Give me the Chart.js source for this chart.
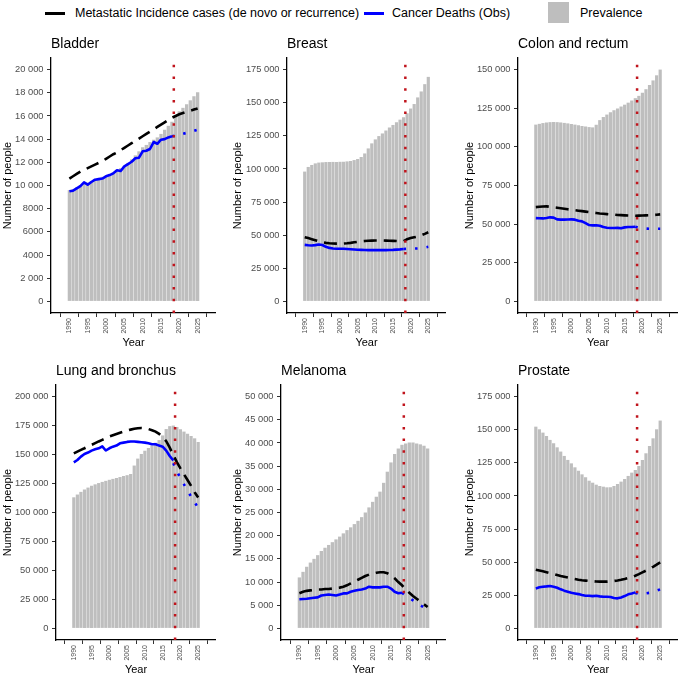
<!DOCTYPE html>
<html>
<head>
<meta charset="utf-8">
<script src="https://cdn.jsdelivr.net/npm/chart.js@4.4.1/dist/chart.umd.min.js"></script>
<style>
  body { margin: 0; width: 678px; height: 674px; overflow: hidden; background: #fff;
         font-family: "Liberation Sans", Arial, Helvetica, sans-serif; position: relative; }
  .panel { position: absolute; }
  .ptitle { position: absolute; font-size: 14px; line-height: 14px; color: #000; white-space: nowrap; }
  .lg { position: absolute; font-size: 12.5px; line-height: 14px; color: #000; white-space: nowrap; }
  .lkey { position: absolute; height: 0; }
</style>
</head>
<body>
<div class="lkey" style="left:45px; top:12px; width:20px; border-top:3px solid #000;"></div>
<div class="lg" style="left:75px; top:6px;">Metastatic Incidence cases (de novo or recurrence)</div>
<div class="lkey" style="left:364px; top:12px; width:20px; border-top:3px solid #0000ff;"></div>
<div class="lg" style="left:392px; top:6px;">Cancer Deaths (Obs)</div>
<div class="lkey" style="left:548px; top:2px; width:21px; height:21px; background:#bebebe;"></div>
<div class="lg" style="left:580px; top:6px;">Prevalence</div>

<script>
// ---- data ----
const years = [1990, 1991, 1992, 1993, 1994, 1995, 1996, 1997, 1998, 1999,
               2000, 2001, 2002, 2003, 2004, 2005, 2006, 2007, 2008, 2009,
               2010, 2011, 2012, 2013, 2014, 2015, 2016, 2017, 2018, 2019,
               2020, 2021, 2022, 2023, 2024, 2025];
const obsYears = years.slice(0, 29);               // 1990 - 2018
const projYears = [2018, 2019, 2020, 2021, 2022, 2023, 2024, 2025];
const xTickYears = [1990, 1995, 2000, 2005, 2010, 2015, 2020, 2025];
const cutYear = 2018.5;

// Bladder
const bladderPrevalence = [9600, 9700, 9850, 10000, 10150, 10250, 10400, 10550, 10650, 10750,
  10850, 11000, 11150, 11350, 11500, 11700, 11950, 12250, 12600, 12950,
  13300, 13500, 13750, 13950, 14150, 14450, 14800, 15150, 15500, 16000,
  16400, 16700, 17000, 17350, 17700, 18050];
const bladderMetastatic = [10600, 10800, 11000, 11200, 11350, 11500, 11650, 11800, 11950, 12100,
  12300, 12500, 12700, 12850, 13050, 13250, 13450, 13650, 13850, 14050,
  14250, 14450, 14650, 14850, 15050, 15250, 15450, 15650, 15850, 16000,
  16150, 16250, 16350, 16450, 16550, 16650];
const bladderDeaths = [9500, 9550, 9750, 9950, 10270, 10070, 10300, 10500, 10550, 10600,
  10790, 10900, 11050, 11310, 11250, 11650, 11850, 12050, 12350, 12400,
  12950, 13000, 13150, 13750, 13600, 13950, 14000, 14150, 14250];
const bladderDeathsProj = [14250, 14300, 14380, 14460, 14540, 14620, 14720, 14820];
const bladderTicks = [0, 2000, 4000, 6000, 8000, 10000, 12000, 14000, 16000, 18000, 20000];
const bladderTickLabels = ['0', '2 000', '4000', '6000', '8000', '10 000', '12 000', '14 000', '16 000', '18 000', '20 000'];

// Breast
const breastPrevalence = [98000, 101500, 103000, 104200, 104800, 105000, 105200, 105300, 105300, 105300,
  105400, 105500, 105700, 106000, 106700, 107500, 109000, 111700, 115500, 119300,
  122300, 124800, 126800, 129000, 131200, 133200, 135300, 137200, 139000, 142000,
  145600, 149000, 154000, 158500, 164000, 169500];
const breastMetastatic = [48500, 47800, 47000, 46200, 45400, 44700, 44200, 43900, 43700, 43600,
  43600, 43700, 43900, 44200, 44600, 45000, 45300, 45600, 45800, 45900,
  46000, 46000, 46000, 45900, 45800, 45700, 45600, 45400, 45400, 47000,
  47800, 48400, 49000, 49900, 51000, 52200];
const breastDeaths = [42700, 42400, 42200, 42500, 43000, 42600, 41200, 40400, 39900, 39700,
  39800, 39700, 39600, 39400, 39200, 39000, 38900, 38800, 38700, 38700,
  38700, 38700, 38700, 38700, 38800, 38900, 39100, 39300, 39600];
const breastDeathsProj = [39600, 39700, 39800, 39900, 40000, 40300, 40700, 41200];
const breastTicks = [0, 25000, 50000, 75000, 100000, 125000, 150000, 175000];
const breastTickLabels = ['0', '25 000', '50 000', '75 000', '100 000', '125 000', '150 000', '175 000'];

// Colon and rectum
const colonPrevalence = [114400, 114900, 115400, 115800, 116000, 116100, 116000, 115800, 115500, 115200,
  114800, 114400, 114000, 113500, 113100, 112800, 112600, 114300, 117300, 119300,
  120900, 122400, 123700, 124900, 126100, 127300, 128600, 130000, 131500, 133000,
  135000, 137300, 140000, 143000, 146300, 150000];
const colonMetastatic = [61000, 61200, 61400, 61500, 61200, 60900, 60600, 60300, 60000, 59600,
  59300, 59000, 58700, 58400, 58100, 57800, 57500, 57200, 56900, 56700,
  56500, 56300, 56100, 55900, 55800, 55700, 55600, 55500, 55400, 55500,
  55600, 55700, 55800, 55900, 56100, 56300];
const colonDeaths = [53900, 53800, 53700, 54000, 54400, 54200, 53100, 52900, 52900, 53000,
  53100, 52900, 52200, 51800, 50700, 49400, 49200, 49300, 49000, 48100,
  47700, 47500, 47500, 47600, 47300, 47900, 48100, 48100, 48300];
const colonDeathsProj = [48300, 47500, 47300, 47100, 47000, 47000, 47000, 47000];
const colonTicks = [0, 25000, 50000, 75000, 100000, 125000, 150000];
const colonTickLabels = ['0', '25 000', '50 000', '75 000', '100 000', '125 000', '150 000'];

// Lung and bronchus
const lungPrevalence = [113100, 115500, 117800, 119800, 121500, 123000, 124300, 125400, 126400, 127300,
  128200, 129000, 129800, 130600, 131400, 132200, 133200, 140500, 146500, 150500,
  153300, 155600, 157800, 160200, 162500, 166500, 172000, 174500, 175000, 173800,
  171800, 169800, 168000, 166000, 164000, 160800];
const lungMetastatic = [151000, 152500, 154000, 155400, 156900, 158300, 159800, 161300, 162700, 164100,
  165500, 166600, 167700, 168800, 169800, 170700, 171500, 172200, 172700, 172900,
  172700, 172000, 171000, 169800, 167800, 165300, 161500, 156000, 149500, 143500,
  138000, 133000, 128000, 123000, 117500, 113000];
const lungDeaths = [143300, 145300, 148200, 150500, 151700, 153400, 154500, 155400, 157000, 153500,
  155400, 156800, 157700, 159700, 160300, 160900, 161200, 161200, 160900, 160600,
  160300, 159700, 158900, 158900, 157700, 156800, 153400, 148800, 144800];
const lungDeathsProj = [142500, 135500, 129800, 124300, 118800, 113800, 108800, 104000];
const lungTicks = [0, 25000, 50000, 75000, 100000, 125000, 150000, 175000, 200000];
const lungTickLabels = ['0', '25 000', '50 000', '75 000', '100 000', '125 000', '150 000', '175 000', '200 000'];

// Melanoma
const melanomaPrevalence = [11000, 12200, 13300, 14200, 15000, 15800, 16700, 17400, 18000, 18600,
  19200, 19800, 20500, 21200, 21800, 22500, 23200, 24000, 25000, 26100,
  27300, 28400, 29500, 31400, 33800, 35800, 37600, 38800, 39600, 39900,
  40100, 40100, 39900, 39700, 39400, 38800];
const melanomaMetastatic = [7600, 7900, 8100, 8200, 8300, 8400, 8400, 8500, 8500, 8600,
  8700, 8800, 9000, 9300, 9700, 10100, 10500, 10900, 11300, 11600,
  11800, 12000, 12100, 12100, 11900, 11400, 10800, 10000, 9300, 8400,
  7700, 7000, 6400, 5800, 5200, 4600];
const melanomaDeaths = [6300, 6350, 6400, 6500, 6600, 6700, 7100, 7200, 7300, 7200,
  7100, 7300, 7550, 7550, 7900, 8100, 8300, 8400, 8600, 9000,
  8850, 8850, 8850, 9000, 9000, 8600, 7900, 7600, 7700];
const melanomaDeathsProj = [7700, 7100, 6600, 6050, 5500, 5000, 4500, 4000];
const melanomaTicks = [0, 5000, 10000, 15000, 20000, 25000, 30000, 35000, 40000, 45000, 50000];
const melanomaTickLabels = ['0', '5 000', '10 000', '15 000', '20 000', '25 000', '30 000', '35 000', '40 000', '45 000', '50 000'];

// Prostate
const prostatePrevalence = [152300, 150300, 147800, 145300, 142300, 139700, 136700, 133500, 130200, 127200,
  124600, 121600, 119100, 116300, 114100, 111500, 110000, 108500, 107500, 107000,
  106500, 106500, 107500, 109000, 110800, 112800, 115100, 117600, 119600, 122600,
  127200, 132200, 137700, 143500, 150300, 156900];
const prostateMetastatic = [44300, 43700, 43100, 42400, 41700, 41000, 40300, 39600, 39000, 38400,
  37800, 37300, 36800, 36400, 36100, 35800, 35600, 35400, 35300, 35300,
  35300, 35500, 35800, 36200, 36700, 37300, 38000, 38800, 39800, 41000,
  42300, 43600, 45000, 46500, 48100, 49800];
const prostateDeaths = [30200, 31000, 31500, 31700, 32000, 31500, 30700, 29500, 28500, 27700,
  26900, 26400, 25900, 25200, 24700, 24700, 24400, 24600, 24200, 23900,
  23900, 23700, 22900, 22700, 23400, 24400, 25700, 26400, 27200];
const prostateDeathsProj = [26800, 26000, 26200, 26500, 26900, 27700, 28500, 29500];
const prostateTicks = [0, 25000, 50000, 75000, 100000, 125000, 150000, 175000];
const prostateTickLabels = ['0', '25 000', '50 000', '75 000', '100 000', '125 000', '150 000', '175 000'];

// ---- layout ----
const panels = [
  { title: 'Bladder', left: 0, top: 50, axisW: 51, prev: bladderPrevalence, meta: bladderMetastatic, deaths: bladderDeaths, proj: bladderDeathsProj, ticks: bladderTicks, labels: bladderTickLabels },
  { title: 'Breast', left: 230, top: 50, axisW: 57, prev: breastPrevalence, meta: breastMetastatic, deaths: breastDeaths, proj: breastDeathsProj, ticks: breastTicks, labels: breastTickLabels },
  { title: 'Colon and rectum', left: 462, top: 50, axisW: 56, prev: colonPrevalence, meta: colonMetastatic, deaths: colonDeaths, proj: colonDeathsProj, ticks: colonTicks, labels: colonTickLabels },
  { title: 'Lung and bronchus', left: 0, top: 377, axisW: 56, prev: lungPrevalence, meta: lungMetastatic, deaths: lungDeaths, proj: lungDeathsProj, ticks: lungTicks, labels: lungTickLabels },
  { title: 'Melanoma', left: 230, top: 377, axisW: 51, prev: melanomaPrevalence, meta: melanomaMetastatic, deaths: melanomaDeaths, proj: melanomaDeathsProj, ticks: melanomaTicks, labels: melanomaTickLabels },
  { title: 'Prostate', left: 462, top: 377, axisW: 56, prev: prostatePrevalence, meta: prostateMetastatic, deaths: prostateDeaths, proj: prostateDeathsProj, ticks: prostateTicks, labels: prostateTickLabels }
];
const panelW = 216, panelH = 300, padTop = 8, xAxisH = 37;
const FONT = '"Liberation Sans", Arial, Helvetica, sans-serif';

// red dotted vertical line at the last observed year
const cutLine = {
  id: 'cutLine',
  afterDatasetsDraw(chart) {
    const { ctx, chartArea, scales } = chart;
    const px = scales.x.getPixelForValue(cutYear);
    ctx.save();
    ctx.beginPath();
    ctx.setLineDash([2.5, 9.2]);
    ctx.lineWidth = 2.5;
    ctx.strokeStyle = '#c0141c';
    ctx.moveTo(px, chartArea.bottom);
    ctx.lineTo(px, chartArea.top);
    ctx.stroke();
    ctx.restore();
  }
};

Chart.defaults.font.family = FONT;

panels.forEach(p => {
  const box = document.createElement('div');
  box.className = 'panel';
  box.style.left = p.left + 'px';
  box.style.top = p.top + 'px';
  box.style.width = panelW + 'px';
  box.style.height = panelH + 'px';
  const cv = document.createElement('canvas');
  box.appendChild(cv);
  document.body.appendChild(box);

  const t = document.createElement('div');
  t.className = 'ptitle';
  t.textContent = p.title;
  t.style.left = (p.left + p.axisW) + 'px';
  t.style.top = (p.top + padTop - 22) + 'px';
  document.body.appendChild(t);

  const topTick = p.ticks[p.ticks.length - 1];

  new Chart(cv, {
    type: 'bar',
    data: {
      datasets: [
        {
          type: 'bar',
          data: years.map((y, i) => ({ x: y, y: p.prev[i] })),
          backgroundColor: '#bebebe',
          barPercentage: 0.9,
          categoryPercentage: 1,
          order: 10
        },
        {
          type: 'line',
          data: years.map((y, i) => ({ x: y, y: p.meta[i] })),
          borderColor: '#000',
          borderWidth: 2.6,
          borderDash: [13, 7],
          borderCapStyle: 'butt',
          pointRadius: 0,
          tension: 0,
          order: 3
        },
        {
          type: 'line',
          data: obsYears.map((y, i) => ({ x: y, y: p.deaths[i] })),
          borderColor: '#0000ff',
          borderWidth: 2.6,
          borderJoinStyle: 'round',
          pointRadius: 0,
          tension: 0,
          order: 2
        },
        {
          type: 'line',
          data: projYears.map((y, i) => ({ x: y, y: p.proj[i] })),
          borderColor: '#0000ff',
          borderWidth: 2.6,
          borderDash: [2.5, 9],
          borderCapStyle: 'butt',
          pointRadius: 0,
          tension: 0,
          order: 1
        }
      ]
    },
    options: {
      responsive: true,
      maintainAspectRatio: false,
      devicePixelRatio: 1,
      animation: false,
      layout: { padding: { top: padTop, right: 0, bottom: 0, left: 0 } },
      plugins: { legend: { display: false }, tooltip: { enabled: false } },
      scales: {
        x: {
          type: 'linear',
          min: 1987.8,
          max: 2027.2,
          afterBuildTicks: s => { s.ticks = xTickYears.map(v => ({ value: v })); },
          afterFit: s => { s.height = xAxisH; s.paddingLeft = 0; s.paddingRight = 0; },
          ticks: {
            autoSkip: false, minRotation: 90, maxRotation: 90, padding: 1,
            font: { size: 7 }, color: '#4d4d4d',
            callback: v => String(v)
          },
          grid: { drawOnChartArea: false, drawTicks: true, tickLength: 4, tickColor: '#333', tickWidth: 1 },
          border: { display: true, color: '#000', width: 1.3 },
          title: { display: true, text: 'Year', font: { size: 11 }, color: '#000', padding: { top: 0, bottom: 0 } }
        },
        y: {
          type: 'linear',
          min: -0.05 * topTick,
          max: 1.05 * topTick,
          afterBuildTicks: s => { s.ticks = p.ticks.map(v => ({ value: v })); },
          afterFit: s => { s.width = p.axisW; s.paddingTop = 0; s.paddingBottom = 0; },
          ticks: {
            padding: 3.5, font: { size: 9.3 }, color: '#4d4d4d',
            callback: (v, i) => p.labels[i]
          },
          grid: { drawOnChartArea: false, drawTicks: true, tickLength: 4, tickColor: '#333', tickWidth: 1 },
          border: { display: true, color: '#000', width: 1.3 },
          title: { display: true, text: 'Number of people', font: { size: 11 }, color: '#000', padding: { top: 1, bottom: 0 } }
        }
      }
    },
    plugins: [cutLine]
  });
});
</script>
</body>
</html>
